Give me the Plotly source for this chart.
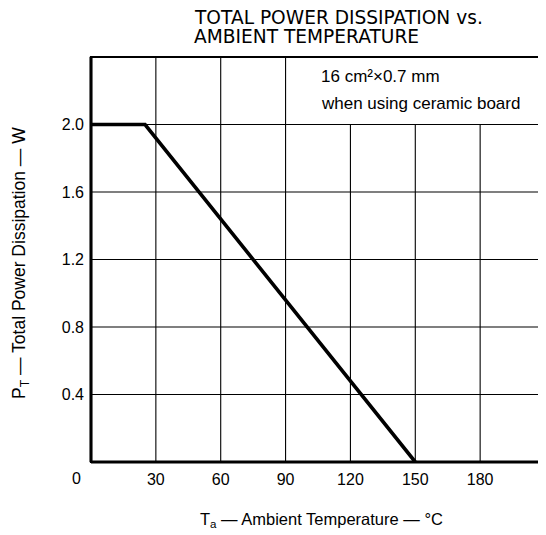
import plotly.graph_objects as go

# Data
temp_c = [0, 25, 150]
power_w = [2.0, 2.0, 0.0]

x_ticks = [30, 60, 90, 120, 150, 180]
x_tick_labels = ["30", "60", "90", "120", "150", "180"]
y_ticks = [0.4, 0.8, 1.2, 1.6, 2.0]
y_tick_labels = ["0.4", "0.8", "1.2", "1.6", "2.0"]
x_range = [0, 210]
y_range = [0, 2.4]

title_lines = ["TOTAL POWER DISSIPATION vs.", "AMBIENT TEMPERATURE"]
note_lines = ["16 cm\u00b2\u00d70.7 mm", "when using ceramic board"]
box_left_x = 90   # grid verticals stop under the note box beyond this

font_main = "Liberation Sans, Arial, sans-serif"

# page has an 8px body margin; plot area in screen px: x 91..545, y 57..462
PL, PR, PT_, PB = 91, 545, 57, 462
def px(sx):
    return (sx - PL) / (PR - PL)
def py(sy):
    return (PB - sy) / (PB - PT_)

fig = go.Figure()
fig.add_trace(go.Scatter(x=temp_c, y=power_w, mode="lines",
                         line=dict(color="black", width=3.6),
                         showlegend=False, hoverinfo="skip"))

shapes = []
for xv in x_ticks:
    top = y_range[1] if xv <= box_left_x else max(y_ticks)
    shapes.append(dict(type="line", xref="x", yref="y", x0=xv, x1=xv, y0=0, y1=top,
                       line=dict(color="black", width=1.1), layer="below"))
for yv in y_ticks:
    shapes.append(dict(type="line", xref="x", yref="y", x0=x_range[0], x1=x_range[1], y0=yv, y1=yv,
                       line=dict(color="black", width=1.1), layer="below"))
# frame
shapes.append(dict(type="rect", xref="paper", yref="paper", x0=0, x1=1, y0=0, y1=1,
                   line=dict(color="black", width=2.2), layer="above"))
shapes.append(dict(type="line", xref="paper", yref="paper", x0=0, x1=0, y0=0, y1=1,
                   line=dict(color="black", width=3), layer="above"))
shapes.append(dict(type="line", xref="paper", yref="paper", x0=0, x1=1, y0=0, y1=0,
                   line=dict(color="black", width=3), layer="above"))

annotations = [
    dict(text=title_lines[0], xref="paper", yref="paper", x=px(192), y=py(18),
         xanchor="left", yanchor="middle", showarrow=False,
         font=dict(family="DejaVu Sans", size=18.6, color="black")),
    dict(text=title_lines[1], xref="paper", yref="paper", x=px(192), y=py(36),
         xanchor="left", yanchor="middle", showarrow=False,
         font=dict(family="DejaVu Sans", size=18.6, color="black")),
    dict(text=note_lines[0], xref="paper", yref="paper", x=px(319), y=py(76),
         xanchor="left", yanchor="middle", showarrow=False,
         font=dict(family=font_main, size=17, color="black")),
    dict(text=note_lines[1], xref="paper", yref="paper", x=px(319), y=py(103),
         xanchor="left", yanchor="middle", showarrow=False,
         font=dict(family=font_main, size=17, color="black")),
    dict(text="0", xref="x", yref="y", x=0, y=0, xshift=-15, yshift=-16,
         xanchor="center", yanchor="middle", showarrow=False,
         font=dict(family=font_main, size=16, color="black")),
    dict(text="T<sub>a</sub> \u2014 Ambient Temperature \u2014 \u00b0C",
         xref="paper", yref="paper", x=px(321), y=py(520),
         xanchor="center", yanchor="middle", showarrow=False,
         font=dict(family=font_main, size=16.5, color="black")),
    dict(text="P<sub>T</sub> \u2014 Total Power Dissipation \u2014 W",
         xref="paper", yref="paper", x=px(20), y=py(263), textangle=-90,
         xanchor="center", yanchor="middle", showarrow=False,
         font=dict(family=font_main, size=17.5, color="black")),
]

fig.update_layout(
    width=538, height=527,
    margin=dict(l=PL - 8, r=538 - (PR - 8), t=PT_ - 8, b=527 - (PB - 8)),
    paper_bgcolor="white", plot_bgcolor="white",
    shapes=shapes, annotations=annotations,
    xaxis=dict(range=x_range, tickvals=x_ticks, ticktext=x_tick_labels, showgrid=False,
               zeroline=False, showline=False, ticks="", ticklabelstandoff=6,
               tickfont=dict(family=font_main, size=16, color="black")),
    yaxis=dict(range=y_range, tickvals=y_ticks, ticktext=y_tick_labels, showgrid=False,
               zeroline=False, showline=False, ticks="", ticklabelstandoff=6,
               tickfont=dict(family=font_main, size=16, color="black")),
)

fig.write_html("out.html")
